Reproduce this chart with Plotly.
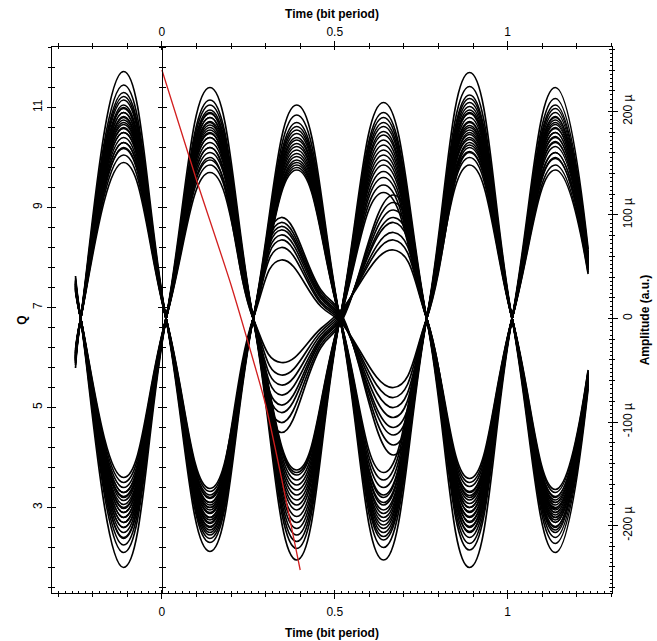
import plotly.graph_objects as go

# ---------------- data ----------------
cross_level = 6.78  # Q level where the eye crossings sit (amplitude 0)

# key times (bit period) of the traces: start, crossings and hump extrema, end
t_normal = [-0.25, -0.235, -0.111, 0.012, 0.139, 0.264, 0.39, 0.515,
            0.641, 0.766, 0.89, 1.013, 1.138, 1.233]
t_disturbed = [-0.25, -0.235, -0.111, 0.012, 0.139, 0.264, 0.345, 0.46,
               0.515, 0.67, 0.766, 0.89, 1.013, 1.138, 1.233]

# group A: high in slots 1,3,5 / low in 2,4,6   [start, p1..p6, end]
group_a = [
    [5.79, 11.72, 2.12, 11.05, 1.95, 11.70, 2.10, 5.38],
    [5.85, 11.45, 2.30, 10.85, 2.20, 11.42, 2.28, 5.43],
    [5.88, 11.30, 2.45, 10.70, 2.35, 11.25, 2.50, 5.50],
    [5.89, 11.22, 2.62, 10.62, 2.50, 11.18, 2.40, 5.47],
    [5.91, 11.15, 2.38, 10.55, 2.65, 11.10, 2.62, 5.53],
    [5.93, 11.05, 2.75, 10.48, 2.42, 11.02, 2.75, 5.57],
    [5.94, 10.98, 2.55, 10.40, 2.80, 10.95, 2.55, 5.51],
    [5.96, 10.90, 2.88, 10.35, 2.58, 10.88, 2.85, 5.60],
    [5.97, 10.82, 2.68, 10.28, 2.95, 10.80, 2.70, 5.56],
    [5.99, 10.75, 3.00, 10.22, 2.72, 10.72, 2.95, 5.63],
    [6.00, 10.66, 2.80, 10.15, 3.10, 10.64, 3.05, 5.66],
    [6.02, 10.58, 3.10, 10.08, 2.88, 10.55, 2.80, 5.59],
    [6.04, 10.50, 2.95, 10.02, 3.25, 10.46, 3.15, 5.69],
    [6.06, 10.40, 3.18, 9.95, 3.05, 10.36, 2.98, 5.64],
    [6.08, 10.30, 3.05, 9.90, 3.40, 10.25, 3.22, 5.71],
    [6.10, 10.18, 3.25, 9.85, 3.20, 10.12, 3.10, 5.68],
    [6.13, 10.05, 3.32, 9.80, 3.55, 10.00, 3.30, 5.74],
    [6.16, 9.90, 3.38, 9.75, 3.70, 9.85, 3.36, 5.75],
]

# group B: low in slots 1,3,5 / high in 2,4,6   [start, p1..p6, end]
group_b = [
    [7.63, 1.80, 11.40, 1.95, 11.10, 1.80, 11.40, 8.17],
    [7.58, 2.10, 11.15, 2.18, 10.90, 2.15, 11.18, 8.10],
    [7.55, 2.25, 11.05, 2.32, 10.80, 2.28, 11.05, 8.06],
    [7.53, 2.38, 10.95, 2.45, 10.70, 2.40, 10.98, 8.04],
    [7.51, 2.50, 10.88, 2.58, 10.62, 2.52, 10.90, 8.02],
    [7.49, 2.60, 10.80, 2.70, 10.52, 2.62, 10.82, 7.99],
    [7.47, 2.70, 10.72, 2.82, 10.45, 2.72, 10.75, 7.97],
    [7.46, 2.80, 10.65, 2.95, 10.35, 2.82, 10.66, 7.94],
    [7.44, 2.90, 10.55, 3.05, 10.25, 2.92, 10.58, 7.92],
    [7.43, 2.98, 10.48, 3.15, 10.15, 3.00, 10.50, 7.90],
    [7.41, 3.06, 10.40, 3.25, 10.05, 3.08, 10.42, 7.87],
    [7.40, 3.14, 10.30, 3.35, 9.95, 3.15, 10.32, 7.84],
    [7.39, 3.22, 10.20, 3.45, 9.85, 3.24, 10.22, 7.81],
    [7.37, 3.30, 10.10, 3.55, 9.72, 3.32, 10.10, 7.78],
    [7.35, 3.40, 9.95, 3.65, 9.60, 3.42, 9.98, 7.74],
    [7.34, 3.50, 9.85, 3.70, 9.45, 3.50, 9.85, 7.70],
    [7.32, 3.60, 9.70, 3.75, 9.30, 3.58, 9.75, 7.67],
]

# group C: reduced hump up in slot 3, knot near 0.5, reduced dip in slot 4
# [start, p1, p2, r3, k1, k2, r4, p5, p6, end]
group_c = [
    [5.94, 11.0, 2.6, 8.80, 7.35, 6.92, 4.05, 10.9, 2.7, 5.56],
    [6.00, 10.7, 2.9, 8.70, 7.30, 6.88, 4.25, 10.6, 2.9, 5.62],
    [6.04, 10.5, 2.5, 8.62, 7.25, 6.85, 4.45, 10.4, 3.0, 5.65],
    [5.96, 10.9, 3.1, 8.55, 7.22, 6.82, 4.60, 10.7, 2.6, 5.53],
    [6.08, 10.3, 2.8, 8.45, 7.18, 6.80, 4.80, 10.2, 3.2, 5.71],
    [6.02, 10.6, 3.0, 8.35, 7.12, 6.78, 5.00, 10.5, 2.8, 5.59],
    [6.10, 10.2, 2.7, 8.20, 7.08, 6.75, 5.20, 10.1, 3.1, 5.68],
    [5.98, 10.8, 3.2, 7.95, 7.02, 6.72, 5.40, 10.3, 2.9, 5.62],
]

# group D: reduced dip in slot 3, knot near 0.5, reduced hump up in slot 4
group_d = [
    [7.52, 2.4, 10.9, 4.50, 6.20, 6.66, 9.25, 2.5, 10.8, 7.99],
    [7.47, 2.7, 10.6, 4.70, 6.26, 6.70, 9.10, 2.8, 10.5, 7.90],
    [7.42, 3.0, 10.4, 4.90, 6.32, 6.74, 8.95, 3.0, 10.3, 7.84],
    [7.49, 2.6, 10.8, 5.05, 6.36, 6.76, 8.80, 2.6, 10.7, 7.96],
    [7.39, 3.2, 10.2, 5.25, 6.40, 6.80, 8.70, 3.3, 10.1, 7.78],
    [7.44, 2.9, 10.5, 5.45, 6.46, 6.84, 8.50, 2.9, 10.4, 7.87],
    [7.37, 3.3, 10.0, 5.65, 6.52, 6.88, 8.35, 3.2, 10.0, 7.75],
    [7.46, 2.8, 10.7, 5.90, 6.58, 6.92, 8.15, 2.7, 10.6, 7.93],
]

# red Q curve
red_t = [0.0, 0.1, 0.2, 0.3, 0.35, 0.4]
red_q = [11.75, 9.55, 7.45, 5.05, 3.45, 1.75]

# axes
time_range = [-0.318, 1.302]
q_range = [1.29, 12.21]
amp_range = [-265.2e-6, 262.3e-6]
amp_tickvals = [-200e-6, -100e-6, 0, 100e-6, 200e-6]
amp_ticktext = ["-200 µ", "-100 µ", "0", "100 µ", "200 µ"]

# ---------------- figure ----------------
X = cross_level
fig = go.Figure()


def add_curve(t, q):
    fig.add_trace(go.Scatter(
        x=t, y=q, mode="lines",
        line=dict(color="black", width=1.7, shape="spline", smoothing=1.3),
        hoverinfo="skip", showlegend=False))


for s, p1, p2, p3, p4, p5, p6, e in group_a + group_b:
    add_curve(t_normal, [s, X, p1, X, p2, X, p3, X, p4, X, p5, X, p6, e])

for s, p1, p2, r3, k1, k2, r4, p5, p6, e in group_c + group_d:
    add_curve(t_disturbed, [s, X, p1, X, p2, X, r3, k1, k2, r4, X, p5, X, p6, e])

fig.add_trace(go.Scatter(
    x=red_t, y=red_q, mode="lines",
    line=dict(color="#d21f1f", width=1.3, shape="spline", smoothing=0.6),
    hoverinfo="skip", showlegend=False))

# empty traces so that every helper axis (frame, ticks, x=0 axis) gets drawn
for k in range(2, 6):
    fig.add_trace(go.Scatter(x=[None], y=[None], xaxis=f"x{k}", yaxis="y",
                             mode="lines", hoverinfo="skip", showlegend=False))
for k in range(2, 8):
    fig.add_trace(go.Scatter(x=[None], y=[None], xaxis="x", yaxis=f"y{k}",
                             mode="lines", hoverinfo="skip", showlegend=False))

FONT = "Liberation Sans, Arial, sans-serif"
tickfont = dict(family=FONT, size=12, color="black")
titlefont = dict(family=FONT, size=12, color="black")

common = dict(showgrid=False, zeroline=False, linecolor="black", linewidth=1,
              tickcolor="black", tickwidth=1, automargin=False, fixedrange=True)

x_pos_zero = (0 - time_range[0]) / (time_range[1] - time_range[0])

fig.update_layout(
    width=657, height=641,
    margin=dict(l=52, r=45, t=47, b=48),
    paper_bgcolor="white", plot_bgcolor="white",
    font=dict(family=FONT, size=12, color="black"),
    xaxis=dict(**common, range=time_range, side="bottom", anchor="y",
               showline=True, ticks="outside", ticklen=5, tick0=0, dtick=0.5,
               minor=dict(dtick=0.1, ticks="outside", ticklen=3, tickcolor="black"),
               tickfont=tickfont, ticklabelstandoff=3,
               title=dict(text="<b>Time (bit period)</b>", font=titlefont, standoff=10)),
    xaxis2=dict(**common, range=time_range, overlaying="x", side="bottom", anchor="y",
                showline=False, ticks="inside", ticklen=3, tick0=0, dtick=0.5,
                minor=dict(dtick=0.1, ticks="inside", ticklen=2, tickcolor="black"),
                showticklabels=False),
    xaxis3=dict(**common, range=time_range, overlaying="x", side="bottom", anchor="y",
                showline=False, ticks="inside", ticklen=2, tick0=0, dtick=0.02,
                showticklabels=False),
    xaxis4=dict(**common, range=time_range, overlaying="x", side="top", anchor="y",
                showline=True, ticks="outside", ticklen=5, tick0=0, dtick=0.5,
                minor=dict(dtick=0.1, ticks="outside", ticklen=3, tickcolor="black"),
                tickfont=tickfont,
                title=dict(text="<b>Time (bit period)</b>", font=titlefont, standoff=4)),
    xaxis5=dict(**common, range=time_range, overlaying="x", side="top", anchor="y",
                showline=False, ticks="inside", ticklen=3, tick0=0, dtick=0.5,
                minor=dict(dtick=0.1, ticks="inside", ticklen=2, tickcolor="black"),
                showticklabels=False),
    yaxis=dict(**common, range=q_range, side="left", anchor="x",
               showline=True, ticks="outside", ticklen=4, tick0=3, dtick=2,
               minor=dict(tick0=3, dtick=0.4, ticks="outside", ticklen=3, tickcolor="black"),
               tickangle=-90, tickfont=tickfont,
               title=dict(text="<b>Q</b>", font=titlefont, standoff=2)),
    yaxis2=dict(**common, range=q_range, overlaying="y", side="left", anchor="x",
                showline=False, ticks="inside", ticklen=4, tick0=3, dtick=2,
                minor=dict(tick0=3, dtick=0.4, ticks="inside", ticklen=3, tickcolor="black"),
                showticklabels=False),
    yaxis3=dict(**common, range=q_range, overlaying="y", anchor="free", position=x_pos_zero,
                side="left", showline=True, ticks="outside", ticklen=4, tick0=3, dtick=2,
                minor=dict(tick0=3, dtick=0.4, ticks="outside", ticklen=3, tickcolor="black"),
                showticklabels=False),
    yaxis4=dict(**common, range=q_range, overlaying="y", anchor="free", position=x_pos_zero,
                side="right", showline=False, ticks="outside", ticklen=4, tick0=3, dtick=2,
                minor=dict(tick0=3, dtick=0.4, ticks="outside", ticklen=3, tickcolor="black"),
                showticklabels=False),
    yaxis5=dict(**common, range=amp_range, overlaying="y", side="right", anchor="x",
                showline=True, ticks="outside", ticklen=5, tickmode="array",
                tickvals=amp_tickvals, ticktext=amp_ticktext, tickangle=-90,
                tickfont=tickfont,
                title=dict(text="<b>Amplitude (a.u.)</b>", font=titlefont, standoff=6)),
    yaxis6=dict(**common, range=amp_range, overlaying="y", side="right", anchor="x",
                showline=False, ticks="inside", ticklen=4, tick0=0, dtick=100e-6,
                minor=dict(tick0=0, dtick=20e-6, ticks="inside", ticklen=3, tickcolor="black"),
                showticklabels=False),
    yaxis7=dict(**common, range=amp_range, overlaying="y", side="right", anchor="x",
                showline=False, ticks="outside", ticklen=2, tick0=0, dtick=20e-6,
                minor=dict(tick0=0, dtick=4e-6, ticks="inside", ticklen=2, tickcolor="black"),
                showticklabels=False),
)

fig.write_html("out.html", config={"displayModeBar": False},
               post_script="document.body.style.margin='0px';")
